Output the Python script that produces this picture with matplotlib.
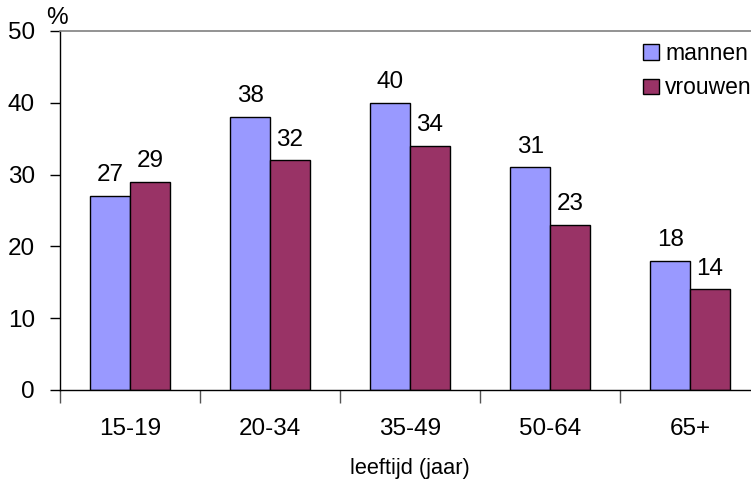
import matplotlib
matplotlib.use("Agg")
import matplotlib.pyplot as plt
import numpy as np

categories = ["15-19", "20-34", "35-49", "50-64", "65+"]
mannen = [27, 38, 40, 31, 18]
vrouwen = [29, 32, 34, 23, 14]
series_names = ["mannen", "vrouwen"]
colors = ["#9999FF", "#993366"]

plt.rcParams["font.family"] = ["Liberation Sans", "DejaVu Sans"]

W, H = 751, 483
fig = plt.figure(figsize=(W / 100, H / 100), dpi=100)
left, right, bottom, top = 60, 760, 390, 31
ax = fig.add_axes([left / W, (H - bottom) / H, (right - left) / W, (bottom - top) / H])

x = np.arange(len(categories))
bw = 0.283
b1 = ax.bar(x - bw / 2, mannen, bw, color=colors[0], edgecolor="black", linewidth=1.0,
            label=series_names[0])
b2 = ax.bar(x + bw / 2, vrouwen, bw, color=colors[1], edgecolor="black", linewidth=1.0,
            label=series_names[1])

for bars, vals in ((b1, mannen), (b2, vrouwen)):
    for rect, v in zip(bars, vals):
        ax.annotate(str(v), (rect.get_x() + rect.get_width() / 2, v),
                    xytext=(0, 7), textcoords="offset points",
                    ha="center", va="bottom", fontsize=17.5)

ax.set_xlim(-0.5, len(categories) - 0.5)
ax.set_ylim(0, 50)
ax.set_yticks(range(0, 51, 10))
ax.tick_params(axis="y", labelsize=17.5, length=7, width=1, direction="out", pad=11)

ax.set_xticks(x)
ax.set_xticklabels(categories, fontsize=17.5)
ax.tick_params(axis="x", which="major", length=0, pad=20)
ax.set_xticks(np.arange(-0.5, len(categories)), minor=True)
ax.tick_params(axis="x", which="minor", length=9, width=1, color="#555555", direction="out")

ax.spines["right"].set_visible(False)
ax.spines["top"].set_color("#808080")
ax.spines["top"].set_linewidth(1.2)
ax.spines["left"].set_linewidth(1.0)
ax.spines["bottom"].set_linewidth(1.0)

ax.set_xlabel("leeftijd (jaar)", fontsize=15.7, labelpad=13)
fig.text(56.5 / W, 1 - 18.5 / H, "%", fontsize=17.5, ha="center", va="center")

leg = fig.legend(handles=[b1, b2], labels=series_names, loc="upper left",
                 bbox_to_anchor=(643 / W, 1 - 42 / H), frameon=False, fontsize=16.5,
                 handlelength=0.7, handleheight=0.65, handletextpad=0.26,
                 labelspacing=0.5, borderaxespad=0, borderpad=0)

fig.savefig("out.png", dpi=100)
